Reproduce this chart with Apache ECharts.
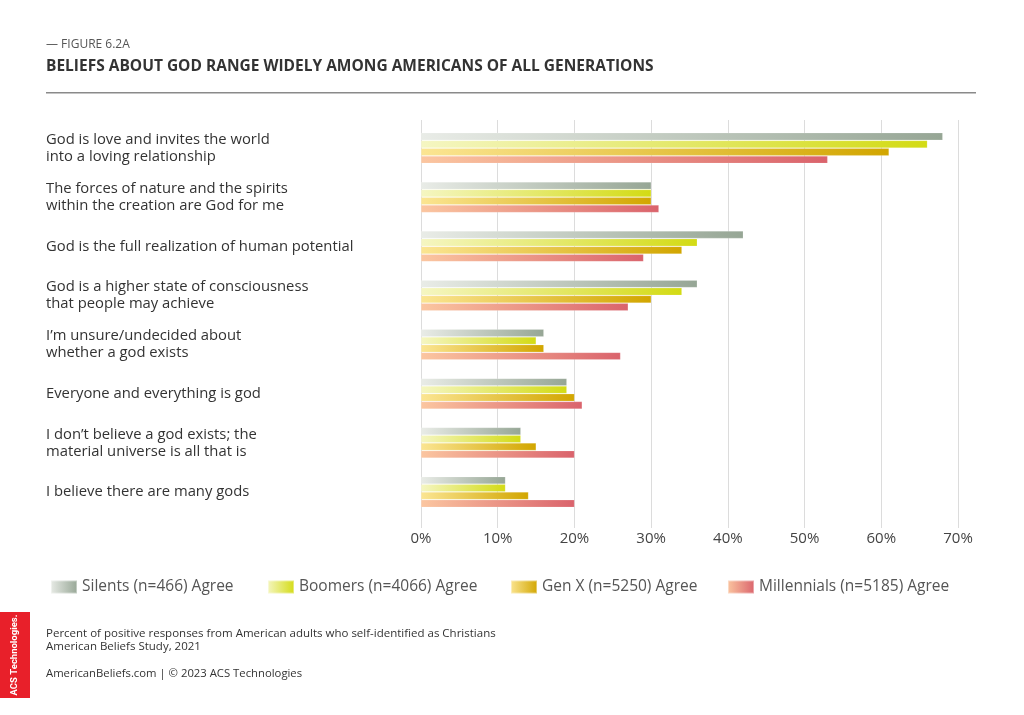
<!DOCTYPE html>
<html><head><meta charset="utf-8">
<script src="https://cdn.jsdelivr.net/npm/echarts@6/dist/echarts.min.js"></script>
<style>html,body{margin:0;padding:0;background:#fff}#c{width:1024px;height:715px}</style>
</head><body><div id="c"></div>
<script>
const categories = [
  "God is love and invites the world\ninto a loving relationship",
  "The forces of nature and the spirits\nwithin the creation are God for me",
  "God is the full realization of human potential",
  "God is a higher state of consciousness\nthat people may achieve",
  "I\u2019m unsure/undecided about\nwhether a god exists",
  "Everyone and everything is god",
  "I don\u2019t believe a god exists; the\nmaterial universe is all that is",
  "I believe there are many gods"
];
const seriesNames = ["Silents (n=466) Agree","Boomers (n=4066) Agree","Gen X (n=5250) Agree","Millennials (n=5185) Agree"];
const silents     = [68, 30, 42, 36, 16, 19, 13, 11];
const boomers     = [66, 30, 36, 34, 15, 19, 13, 11];
const genX        = [61, 30, 34, 30, 16, 20, 15, 14];
const millennials = [53, 31, 29, 27, 26, 21, 20, 20];
const xTicks = [0, 10, 20, 30, 40, 50, 60, 70];

const values = [silents, boomers, genX, millennials];
const gradStops = [
  ["#e9ece7", "#96a695"],
  ["#f5f6c2", "#d3db14"],
  ["#fbe592", "#d2a600"],
  ["#fbc6a0", "#da636c"]
];
const font = "'Open Sans', sans-serif";
const chart = echarts.init(document.getElementById('c'));
const grad = s => new echarts.graphic.LinearGradient(0, 0, 1, 0, [{offset:0,color:s[0]},{offset:1,color:s[1]}]);

const legendLefts = [50, 267, 510, 727];
const option = {
  animation: false,
  backgroundColor: '#fff',
  grid: [
    {left: 421, width: 537, top: 123.5, height: 393},
    {left: 421, width: 537, top: 120, height: 408}
  ],
  xAxis: [
    {gridIndex: 0, type: 'value', min: 0, max: 70, interval: 10, show: false},
    {gridIndex: 1, type: 'value', min: 0, max: 70, interval: 10,
     axisLine: {show: false}, axisTick: {show: false},
     splitLine: {show: true, lineStyle: {color: '#dcdcdc', width: 1}},
     axisLabel: {formatter: v => v + '%', color: '#444', fontSize: 15, fontFamily: font, margin: 3}}
  ],
  yAxis: [
    {gridIndex: 0, type: 'category', data: categories, inverse: true,
     axisLine: {show: false}, axisTick: {show: false},
     axisLabel: {align: 'left', margin: 375, color: '#333', fontSize: 14.8, lineHeight: 17, fontFamily: font}},
    {gridIndex: 1, type: 'value', show: false}
  ],
  legend: seriesNames.map((n, i) => ({
    data: [n], left: legendLefts[i], top: 579, padding: 0, itemWidth: 26, itemHeight: 13, itemGap: 5,
    textStyle: {color: '#555', fontSize: 15.5, fontFamily: font}, icon: 'rect'
  })),
  series: values.map((v, i) => ({
    name: seriesNames[i], type: 'bar', xAxisIndex: 0, yAxisIndex: 0, data: v,
    barWidth: 7.3, barGap: '6%',
    itemStyle: {color: grad(gradStops[i]), borderColor: 'rgba(255,255,255,0.4)', borderWidth: 0.4}
  })),
  graphic: [
    {type: 'text', left: 46, top: 39, style: {text: '\u2014 FIGURE 6.2A', fill: '#555', font: "12px 'Open Sans', sans-serif"}},
    {type: 'text', left: 46, top: 59, style: {text: 'BELIEFS ABOUT GOD RANGE WIDELY AMONG AMERICANS OF ALL GENERATIONS', fill: '#333', font: "bold 15.5px 'Open Sans', sans-serif"}},
    {type: 'rect', shape: {x: 46, y: 92, width: 930, height: 1.5}, style: {fill: '#8a8a8a'}},
    {type: 'text', left: 46, top: 627, style: {text: 'Percent of positive responses from American adults who self-identified as Christians\nAmerican Beliefs Study, 2021', fill: '#333', font: "11.5px 'Open Sans', sans-serif", lineHeight: 13}},
    {type: 'text', left: 46, top: 668, style: {text: 'AmericanBeliefs.com | \u00a9 2023 ACS Technologies', fill: '#333', font: "11.3px 'Open Sans', sans-serif"}},
    {type: 'rect', shape: {x: 0, y: 612, width: 30, height: 86}, style: {fill: '#e8202a'}},
    {type: 'text', x: 15, y: 655, rotation: Math.PI / 2, style: {text: 'ACS Technologies.', fill: '#fff', font: "bold 9.5px 'Liberation Sans Narrow', Roboto, sans-serif", align: 'center', verticalAlign: 'middle'}}
  ]
};
chart.setOption(option);
</script></body></html>
